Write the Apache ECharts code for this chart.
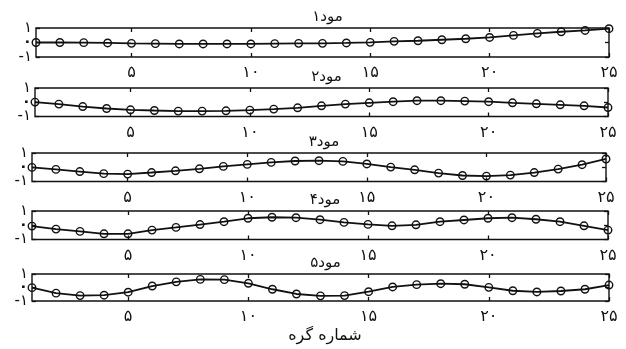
<!DOCTYPE html>
<html>
<head>
<meta charset="utf-8">
<script src="https://cdn.jsdelivr.net/npm/echarts@6/dist/echarts.min.js"></script>
<style>
html,body{margin:0;padding:0;background:#fff;}
#chart{width:626px;height:349px;}
</style>
</head>
<body>
<div id="chart"></div>
<script>
// ---- data ----
var nodes = [1,2,3,4,5,6,7,8,9,10,11,12,13,14,15,16,17,18,19,20,21,22,23,24,25];
var mode1 = [0.0,0.0,-0.01,-0.03,-0.06,-0.08,-0.10,-0.10,-0.10,-0.10,-0.08,-0.06,-0.06,-0.03,0.01,0.08,0.12,0.19,0.26,0.35,0.49,0.63,0.74,0.83,0.95];
var mode2 = [0.01,-0.13,-0.30,-0.44,-0.53,-0.58,-0.62,-0.62,-0.60,-0.55,-0.48,-0.39,-0.25,-0.13,-0.04,0.04,0.11,0.11,0.08,0.04,-0.04,-0.11,-0.18,-0.25,-0.37];
var mode3 = [-0.01,-0.15,-0.30,-0.45,-0.48,-0.37,-0.25,-0.11,0.06,0.20,0.34,0.44,0.46,0.41,0.23,0.01,-0.18,-0.41,-0.58,-0.62,-0.55,-0.37,-0.13,0.18,0.58];
var mode4 = [-0.06,-0.27,-0.43,-0.60,-0.60,-0.34,-0.15,0.05,0.25,0.49,0.56,0.53,0.39,0.20,0.06,-0.04,0.03,0.25,0.37,0.49,0.53,0.42,0.25,-0.04,-0.34];
var mode5 = [-0.01,-0.42,-0.60,-0.57,-0.35,0.11,0.42,0.60,0.58,0.31,-0.13,-0.48,-0.62,-0.60,-0.31,0.04,0.21,0.28,0.24,0.01,-0.24,-0.33,-0.26,-0.13,0.18];
var modeTitles = ['مود۱','مود۲','مود۳','مود۴','مود۵'];
var xTickValues = [5,10,15,20,25];
var xTickLabels = ['۵','۱۰','۱۵','۲۰','۲۵'];
var yTickValues = [-1,0,1];
var yTickLabels = ['-۱','۰','۱'];
var xAxisName = 'شماره گره';

// ---- layout ----
var modes = [mode1,mode2,mode3,mode4,mode5];
var boxes = [
  {l:36,r:609,t:28,b:57},
  {l:35,r:608,t:88,b:116.5},
  {l:32,r:606,t:153,b:181.5},
  {l:32,r:608,t:211,b:239.5},
  {l:32,r:609,t:274,b:301}
];
var FONT = 'DejaVu Sans';
var ink = '#111';

function yLabel(v){var k=yTickValues.indexOf(v);return k>=0?yTickLabels[k]:'';}

var grids=[],xAxes=[],yAxes=[],series=[],titles=[];
boxes.forEach(function(bx,i){
  grids.push({left:bx.l,top:bx.t,width:bx.r-bx.l,height:bx.b-bx.t,
    show:true,borderColor:ink,borderWidth:1.4,backgroundColor:'transparent',containLabel:false});
  var xBase = {gridIndex:i,type:'value',min:1,max:25,
    axisLine:{show:false,onZero:false},splitLine:{show:false},
    axisTick:{show:true,inside:true,length:4,customValues:xTickValues,lineStyle:{color:ink,width:1.3}}};
  xAxes.push(Object.assign({},xBase,{position:'bottom',
    axisLabel:{show:true,customValues:xTickValues,margin:8,fontFamily:FONT,fontSize:16,color:ink,
      showMinLabel:true,showMaxLabel:true,hideOverlap:false,
      formatter:function(v){var k=xTickValues.indexOf(v);return k>=0?xTickLabels[k]:'';}}}));
  xAxes.push(Object.assign({},xBase,{position:'top',axisLabel:{show:false}}));
  var yBase = {gridIndex:i,type:'value',min:-1,max:1,
    axisLine:{show:false,onZero:false},splitLine:{show:false},
    axisTick:{show:true,inside:true,length:4,customValues:yTickValues,lineStyle:{color:ink,width:1.3}}};
  var labBase = {show:true,margin:4,fontFamily:FONT,fontSize:15,color:ink,
      showMinLabel:true,showMaxLabel:true,hideOverlap:false,formatter:yLabel};
  // left axis: ticks + labels at -1 and 1
  yAxes.push(Object.assign({},yBase,{position:'left',
    axisLabel:Object.assign({},labBase,{customValues:[yTickValues[0],yTickValues[2]]})}));
  // left axis: label at 0 only
  yAxes.push(Object.assign({},yBase,{position:'left',axisTick:{show:false},
    axisLabel:Object.assign({},labBase,{customValues:[yTickValues[1]],fontWeight:'bold'})}));
  // right axis: ticks only
  yAxes.push(Object.assign({},yBase,{position:'right',axisLabel:{show:false}}));
  series.push({type:'line',xAxisIndex:2*i,yAxisIndex:3*i,
    data:nodes.map(function(n,k){return [n,modes[i][k]];}),
    symbol:'circle',symbolSize:7.5,showSymbol:true,animation:false,
    lineStyle:{color:ink,width:1.8},
    itemStyle:{color:'rgba(0,0,0,0)',borderColor:ink,borderWidth:1.4}});
  titles.push({text:modeTitles[i],left:(bx.l+bx.r)/2,top:bx.t-23,textAlign:'center',
    textStyle:{fontFamily:FONT,fontSize:15,fontWeight:'normal',color:ink}});
});
titles.push({text:xAxisName,left:320,top:323,textAlign:'center',
  textStyle:{fontFamily:FONT,fontSize:16,fontWeight:'normal',color:ink}});

var chart = echarts.init(document.getElementById('chart'),null,{renderer:'canvas'});
chart.setOption({
  backgroundColor:'#fff',
  animation:false,
  title:titles,
  grid:grids,
  xAxis:xAxes,
  yAxis:yAxes,
  series:series
});
</script>
</body>
</html>
